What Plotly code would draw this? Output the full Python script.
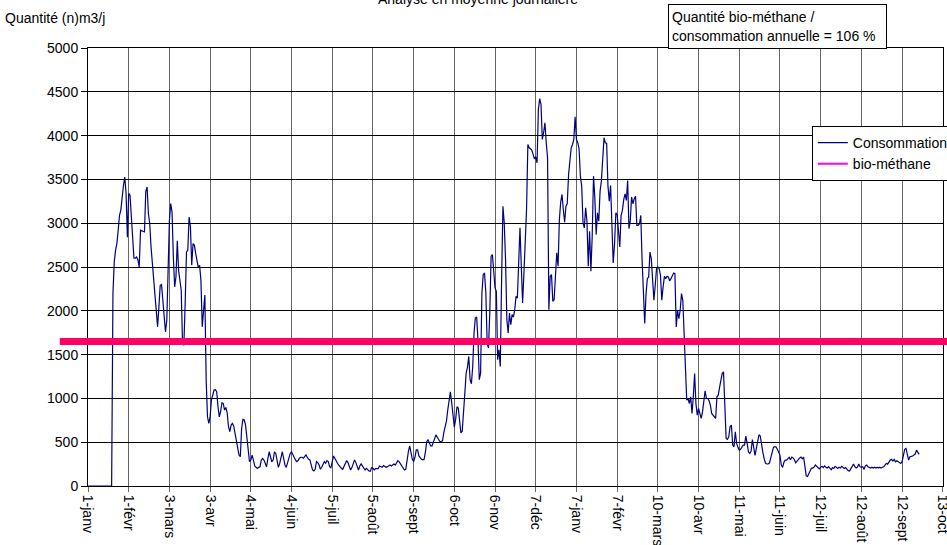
import pandas as pd
import plotly.graph_objects as go

# Daily consumption (n)m3/j, one value per day starting 1 January 2008
debut = "2008-01-01"
consommation = [
    0, 0, 0, 0, 0, 0, 0, 0, 0, 0,
    0, 0, 0, 0, 0, 0, 0, 0, 0, 2200,
    2560, 2690, 2770, 2920, 3090, 3150, 3320, 3430, 3526, 3340,
    2840, 3340, 3320, 3030, 2800, 2600, 2600, 2615, 2580, 2500,
    2920, 2910, 2900, 2900, 3360, 3414, 3110, 3000, 2730, 2540,
    2390, 2235, 2010, 1817, 2045, 2290, 2300, 2120, 1890, 1760,
    1890, 2540, 3030, 3224, 3130, 2615, 2274, 2390, 2800, 2460,
    2310, 2235, 1627, 1608, 2083, 2672, 2690, 3070, 2960, 2520,
    2768, 2750, 2655, 2580, 2494, 2520, 2350, 1817, 2045, 2180,
    1210, 790, 715, 790, 980, 1057, 1095, 1100, 1076, 905,
    790, 848, 950, 943, 867, 897, 836, 677, 620, 695,
    715, 684, 600, 524, 467, 353, 334, 657, 760, 753,
    695, 524, 391, 277, 296, 353, 296, 228, 213, 201,
    213, 220, 296, 315, 296, 258, 220, 315, 391, 334,
    277, 296, 391, 372, 304, 213, 258, 315, 391, 315,
    240, 213, 277, 327, 372, 391, 353, 315, 298, 279,
    290, 317, 328, 328, 317, 336, 355, 328, 305, 298,
    240, 183, 172, 191, 279, 267, 240, 191, 214, 252,
    279, 260, 290, 279, 221, 210, 290, 343, 317, 279,
    260, 237, 214, 202, 191, 221, 267, 290, 267, 214,
    183, 210, 260, 298, 267, 221, 183, 229, 252, 229,
    198, 183, 202, 183, 172, 168, 210, 202, 183, 198,
    202, 198, 229, 221, 214, 233, 218, 214, 221, 229,
    240, 229, 244, 252, 240, 260, 290, 275, 252, 240,
    202, 183, 191, 328, 393, 458, 393, 305, 279, 328,
    412, 412, 343, 317, 305, 298, 305, 393, 508, 527,
    496, 458, 458, 496, 557, 584, 557, 527, 508, 508,
    515, 611, 672, 740, 870, 1010, 1075, 950, 790, 672,
    760, 905, 890, 700, 605, 625, 915, 1060, 1289, 1357,
    1479, 1213, 1167, 1365, 1746, 1918, 1929, 1670, 1213, 1289,
    2204, 2413, 2432, 2204, 1632, 1575, 1975, 2623, 2642, 2394,
    2261, 2223, 1441, 1556, 1365, 2356, 3194, 3004, 2585, 1899,
    1746, 1975, 1841, 1956, 1929, 2013, 2165, 2146, 2470, 2947,
    2508, 2089, 2432, 2813, 3156, 3899, 3861, 3850, 3835, 3785,
    3735, 3758, 3690, 4300, 4422, 4357, 3957, 4033, 4147, 3918,
    3747, 2013, 2394, 2413, 2108, 2127, 2394, 2661, 2508, 3042,
    3240, 3328, 3156, 3011, 3194, 3225, 3556, 3766, 3861, 3899,
    3957, 4216, 3957, 3918, 3850, 3537, 3423, 3004, 2947, 3175,
    3023, 2508, 2909, 2451, 2851, 3537, 3290, 2870, 3118, 3023,
    3366, 3480, 3747, 3976, 3918, 3911, 3423, 3252, 3431, 3080,
    2547, 2756, 3118, 3100, 2842, 2728, 3089, 3146, 3268, 3336,
    3260, 3488, 2937, 3032, 3298, 3222, 3279, 3306, 2975, 2975,
    2994, 3089, 2576, 2234, 1854, 2196, 2367, 2386, 2671, 2595,
    2348, 2120, 2291, 2481, 2500, 2481, 2405, 2120, 2272, 2394,
    2367, 2394, 2386, 2341, 2367, 2402, 2432, 2424, 1816, 2006,
    1911, 2006, 2196, 2120, 1702, 1246, 980, 999, 942, 1018,
    828, 1018, 1284, 942, 809, 885, 828, 771, 847, 942,
    1087, 999, 999, 973, 923, 828, 809, 798, 771, 1018,
    1037, 1125, 1216, 1284, 1303, 904, 543, 532, 562, 676,
    695, 467, 448, 619, 486, 441, 410, 418, 437, 467,
    467, 570, 486, 391, 372, 400, 530, 430, 350, 430,
    510, 585, 570, 440, 380, 310, 258, 251, 251, 262,
    330, 390, 440, 450, 445, 420, 391, 353, 240, 213,
    270, 296, 296, 310, 327, 300, 330, 320, 300, 265,
    285, 310, 320, 330, 310, 330, 220, 115, 108, 135,
    170, 205, 205, 215, 240, 225, 205, 195, 215, 225,
    210, 230, 215, 205, 220, 195, 185, 210, 200, 225,
    210, 200, 215, 205, 225, 215, 200, 210, 190, 175,
    170, 195, 225, 250, 220, 205, 215, 250, 220, 215,
    220, 190, 230, 239, 220, 215, 205, 215, 205, 215,
    205, 215, 205, 215, 205, 215, 220, 239, 258, 250,
    277, 296, 304, 285, 304, 277, 289, 277, 266, 258,
    277, 372, 418, 429, 372, 296, 334, 334, 342, 353,
    365, 410, 380, 361,
]

# Daily bio-methane production level (n)m3/j
bio_methane = 1650

# Axis labels, one every 31 days
etiquettes_x = [
    "1-janv", "1-févr", "3-mars", "3-avr", "4-mai", "4-juin", "5-juil",
    "5-août", "5-sept", "6-oct", "6-nov", "7-déc", "7-janv", "7-févr",
    "10-mars", "10-avr", "11-mai", "11-juin", "12-juil", "12-août",
    "12-sept", "13-oct",
]

dates = pd.date_range(debut, periods=len(consommation), freq="D")
ticks = pd.date_range(debut, periods=len(etiquettes_x), freq="31D")
# small pad so the last tick label (at the range end) is kept
fin_axe = ticks[-1] + pd.Timedelta(hours=4)

police = "Liberation Sans, Arial, sans-serif"

fig = go.Figure()
fig.add_trace(go.Scatter(
    x=dates, y=consommation, mode="lines", name="Consommation",
    line=dict(color="#000080", width=1.2),
))
fig.add_trace(go.Scatter(
    x=[ticks[0], ticks[-1]], y=[bio_methane, bio_methane], mode="lines",
    name="bio-méthane", line=dict(color="#FF00FF", width=2),
))

# thick pink level line, running across the whole chart width
fig.add_shape(
    type="line", xref="paper", yref="y", x0=-0.033, x1=1.01,
    y0=bio_methane, y1=bio_methane,
    line=dict(color="#FF0066", width=7), layer="above",
)

fig.update_layout(
    width=947, height=545,
    margin=dict(l=88, r=4, t=48, b=59, autoexpand=False),
    paper_bgcolor="white", plot_bgcolor="white",
    font=dict(family=police, size=14, color="#000000"),
    showlegend=True,
    legend=dict(
        x=0.8466, y=0.8219, xanchor="left", yanchor="top",
        bordercolor="#000000", borderwidth=1, bgcolor="white",
        font=dict(family=police, size=14, color="#000000"),
    ),
    xaxis=dict(
        type="date", range=[ticks[0], fin_axe],
        tickmode="array", tickvals=ticks, ticktext=etiquettes_x,
        tickangle=90, ticks="outside", ticklen=5, tickcolor="#666666",
        ticklabeloverflow="allow",
        showgrid=True, gridcolor="#666666", gridwidth=1,
        showline=True, linecolor="#000000", linewidth=1, mirror=True,
        zeroline=False,
    ),
    yaxis=dict(
        range=[0, 5000], dtick=500, tick0=0,
        ticks="outside", ticklen=6, tickcolor="#000000",
        showgrid=True, gridcolor="#000000", gridwidth=1,
        showline=True, linecolor="#000000", linewidth=1, mirror=True,
        zeroline=False,
    ),
    annotations=[
        dict(
            text="Analyse en moyenne journalière", xref="paper", yref="paper",
            x=0.456, y=1, xanchor="center", yanchor="middle", yshift=49,
            showarrow=False, font=dict(family=police, size=14),
        ),
        dict(
            text="Quantité (n)m3/j", xref="paper", yref="paper",
            x=-0.1, y=1, xanchor="left", yanchor="middle", yshift=30,
            showarrow=False, font=dict(family=police, size=14),
        ),
        dict(
            text="Quantité bio-méthane /<br>consommation annuelle = 106 %",
            xref="paper", yref="paper", x=0.678, y=1,
            xanchor="left", yanchor="top", yshift=44, align="left",
            width=211, height=37, valign="middle",
            showarrow=False, bordercolor="#000000", borderwidth=1,
            borderpad=3, bgcolor="white",
            font=dict(family=police, size=14),
        ),
    ],
)

fig.write_html("out.html")
